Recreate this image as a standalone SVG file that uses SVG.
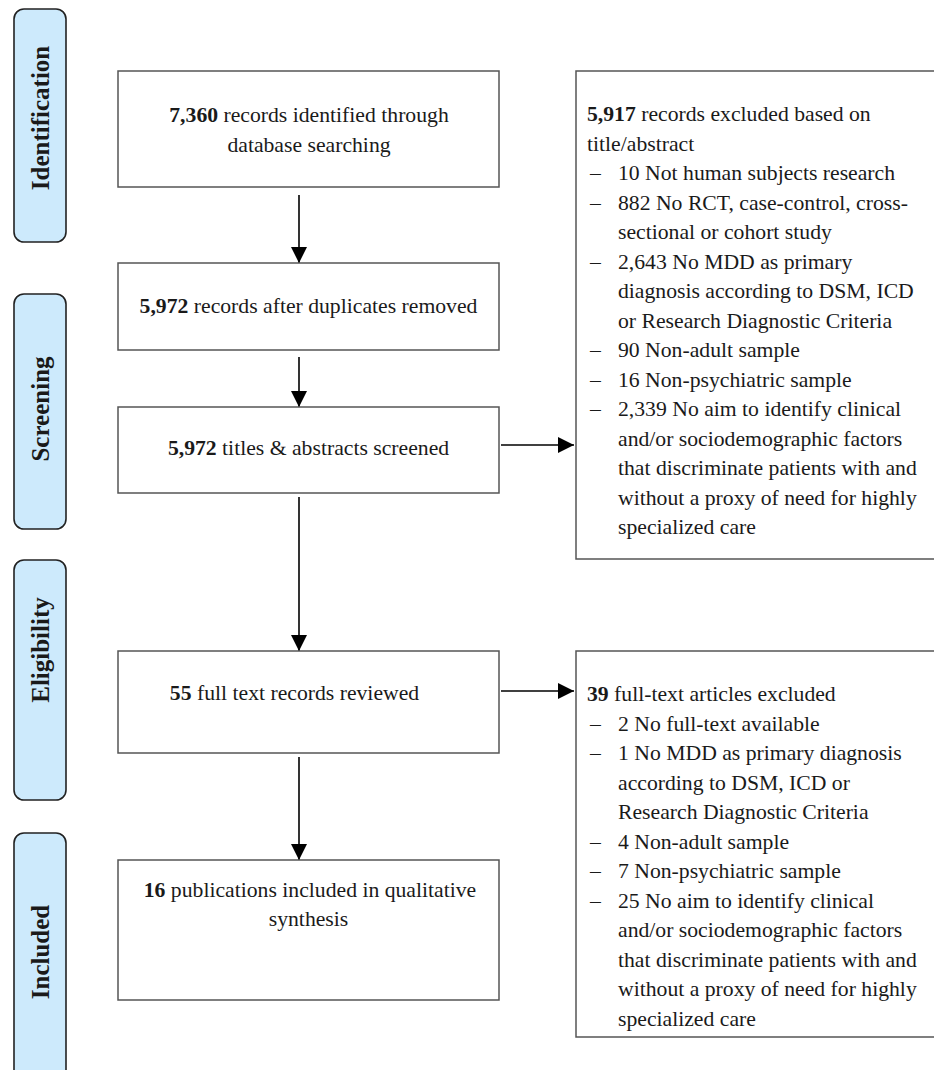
<svg xmlns="http://www.w3.org/2000/svg" width="934" height="1070" viewBox="0 0 934 1070">
<defs>
<style>
text { font-family: "Liberation Serif", "Times New Roman", serif; fill: #1a1a1a; }
.t { font-size: 21.7px; }
.c { text-anchor: middle; }
.b { font-weight: bold; }
.phase rect { fill: #cdeafc; stroke: #222; stroke-width: 1.6; }
.phase text { font-size: 25px; font-weight: bold; text-anchor: middle; }
.box rect { fill: #fff; stroke: #555; stroke-width: 1.5; }
.conn line { stroke: #000; stroke-width: 1.6; }
</style>
<marker id="ah" viewBox="0 0 16 16" markerWidth="16" markerHeight="16" refX="16" refY="8" orient="auto" markerUnits="userSpaceOnUse">
<path d="M0,0 L16,8 L0,16 z" fill="#000"/>
</marker>
</defs>
<rect width="934" height="1070" fill="#fff"/>

<g id="phase-identification" class="phase">
<rect x="14" y="9" width="52" height="233" rx="10"/>
<text transform="translate(49,118) rotate(-90)">Identification</text>
</g>
<g id="phase-screening" class="phase">
<rect x="14" y="294" width="52" height="235" rx="10"/>
<text transform="translate(49,409) rotate(-90)">Screening</text>
</g>
<g id="phase-eligibility" class="phase">
<rect x="14" y="560" width="52" height="240" rx="10"/>
<text transform="translate(49,650) rotate(-90)">Eligibility</text>
</g>
<g id="phase-included" class="phase">
<rect x="14" y="833" width="52" height="250" rx="10"/>
<text transform="translate(49,952) rotate(-90)">Included</text>
</g>

<g id="connectors" class="conn">
<line x1="299" y1="195" x2="299" y2="263" marker-end="url(#ah)"/>
<line x1="299" y1="357" x2="299" y2="407" marker-end="url(#ah)"/>
<line x1="299" y1="497" x2="299" y2="651" marker-end="url(#ah)"/>
<line x1="299" y1="757" x2="299" y2="860" marker-end="url(#ah)"/>
<line x1="501" y1="445" x2="574" y2="445" marker-end="url(#ah)"/>
<line x1="501" y1="691" x2="574" y2="691" marker-end="url(#ah)"/>
</g>

<g id="box-identified" class="box">
<rect x="118" y="71" width="381" height="116"/>
<text class="t c" x="309" y="122"><tspan class="b">7,360</tspan> records identified through</text>
<text class="t c" x="309" y="151.5">database searching</text>
</g>
<g id="box-deduplicated" class="box">
<rect x="118" y="263" width="381" height="87"/>
<text class="t c" x="308.5" y="313"><tspan class="b">5,972</tspan> records after duplicates removed</text>
</g>
<g id="box-screened" class="box">
<rect x="118" y="407" width="381" height="86"/>
<text class="t c" x="308.5" y="455"><tspan class="b">5,972</tspan> titles &amp; abstracts screened</text>
</g>
<g id="box-fulltext" class="box">
<rect x="118" y="651" width="381" height="102"/>
<text class="t c" x="294.5" y="700"><tspan class="b">55</tspan> full text records reviewed</text>
</g>
<g id="box-included" class="box">
<rect x="118" y="860" width="381" height="140"/>
<text class="t c" x="310" y="897"><tspan class="b">16</tspan> publications included in qualitative</text>
<text class="t c" x="308.5" y="926">synthesis</text>
</g>

<g id="box-excluded-title" class="box">
<rect x="576" y="71" width="360" height="488"/>
<text class="t" x="587" y="121"><tspan class="b">5,917</tspan> records excluded based on</text>
<text class="t" x="587" y="150.5">title/abstract</text>
<text class="t" x="590" y="180">–</text><text class="t" x="618" y="180">10 Not human subjects research</text>
<text class="t" x="590" y="209.5">–</text><text class="t" x="618" y="209.5">882 No RCT, case-control, cross-</text>
<text class="t" x="618" y="239">sectional or cohort study</text>
<text class="t" x="590" y="268.5">–</text><text class="t" x="618" y="268.5">2,643 No MDD as primary</text>
<text class="t" x="618" y="298">diagnosis according to DSM, ICD</text>
<text class="t" x="618" y="327.5">or Research Diagnostic Criteria</text>
<text class="t" x="590" y="357">–</text><text class="t" x="618" y="357">90 Non-adult sample</text>
<text class="t" x="590" y="386.5">–</text><text class="t" x="618" y="386.5">16 Non-psychiatric sample</text>
<text class="t" x="590" y="416">–</text><text class="t" x="618" y="416">2,339 No aim to identify clinical</text>
<text class="t" x="618" y="445.5">and/or sociodemographic factors</text>
<text class="t" x="618" y="475">that discriminate patients with and</text>
<text class="t" x="618" y="504.5">without a proxy of need for highly</text>
<text class="t" x="618" y="534">specialized care</text>
</g>

<g id="box-excluded-fulltext" class="box">
<rect x="576" y="651" width="360" height="386"/>
<text class="t" x="587" y="701"><tspan class="b">39</tspan> full-text articles excluded</text>
<text class="t" x="590" y="730.5">–</text><text class="t" x="618" y="730.5">2 No full-text available</text>
<text class="t" x="590" y="760">–</text><text class="t" x="618" y="760">1 No MDD as primary diagnosis</text>
<text class="t" x="618" y="789.5">according to DSM, ICD or</text>
<text class="t" x="618" y="819">Research Diagnostic Criteria</text>
<text class="t" x="590" y="848.5">–</text><text class="t" x="618" y="848.5">4 Non-adult sample</text>
<text class="t" x="590" y="878">–</text><text class="t" x="618" y="878">7 Non-psychiatric sample</text>
<text class="t" x="590" y="907.5">–</text><text class="t" x="618" y="907.5">25 No aim to identify clinical</text>
<text class="t" x="618" y="937">and/or sociodemographic factors</text>
<text class="t" x="618" y="966.5">that discriminate patients with and</text>
<text class="t" x="618" y="996">without a proxy of need for highly</text>
<text class="t" x="618" y="1025.5">specialized care</text>
</g>
</svg>
